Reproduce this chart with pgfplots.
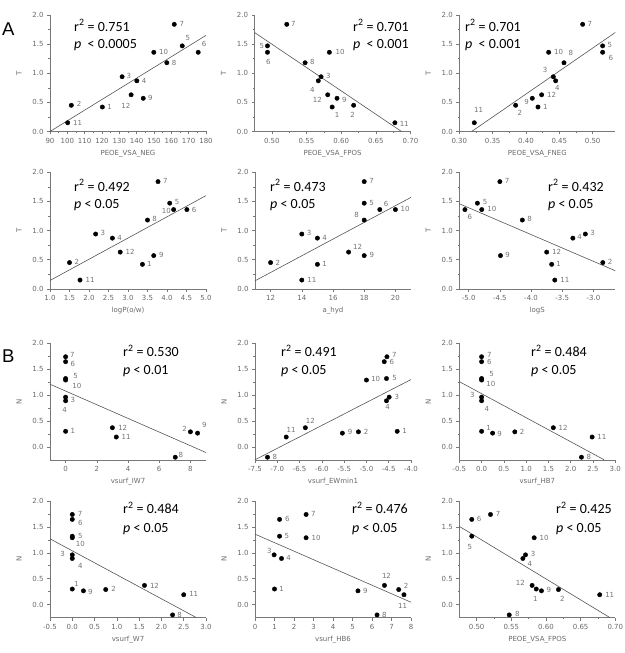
\documentclass[border=0pt]{standalone}
\usepackage{pgfplots}
\pgfplotsset{compat=1.18}
\usepackage{fontspec}
\setmainfont{Carlito}
\newfontfamily\dvs{DejaVu Sans}
\newfontfamily\lib{Liberation Sans}
\definecolor{tickgray}{RGB}{105,105,105}
\definecolor{labgray}{RGB}{115,115,115}
\definecolor{axgray}{RGB}{120,120,120}
\definecolor{linegray}{RGB}{85,85,85}
\newcommand{\smallf}{\fontsize{7}{8}\selectfont\dvs}
\newcommand{\rf}{\fontsize{14}{16}\selectfont}
\pgfplotsset{
 panel/.style={
  scale only axis, width=156pt, height=116.5pt, anchor=north west,
  axis lines=left, axis line style={-, draw=axgray, line width=0.6pt},
  tick align=outside, major tick length=3pt, minor tick length=1.6pt,
  every tick/.style={draw=axgray, line width=0.5pt},
  minor tick num=1,
  tick label style={font=\smallf, text=tickgray},
  /pgf/number format/assume math mode=true,
  label style={font=\smallf, text=tickgray},
  xlabel style={at={([yshift=-22pt]axis description cs:0.5,0)}, anchor=center},
  ylabel style={at={([xshift=-31pt]axis description cs:0,0.5)}, anchor=center},
  yticklabel style={/pgf/number format/fixed, /pgf/number format/fixed zerofill, /pgf/number format/precision=1},
  clip=false,
 },
 rowT/.style={panel, ymin=0, ymax=2, ytick={0,0.5,1,1.5,2}, ylabel={T}},
 rowN/.style={panel, ymin=-0.25, ymax=2, ytick={0,0.5,1,1.5,2}, ylabel={N}},
 dec/.style={xticklabel style={/pgf/number format/fixed, /pgf/number format/fixed zerofill, /pgf/number format/precision=#1}},
 pts/.style={only marks, mark=*, mark size=2.2pt, mark options={draw=black, fill=black},
  nodes near coords, point meta=explicit symbolic,
  visualization depends on={value \thisrow{dx}\as\ldx},
  visualization depends on={value \thisrow{dy}\as\ldy},
  every node near coord/.append style={anchor=center, xshift=\ldx pt, yshift=\ldy pt, font=\smallf, text=labgray, inner sep=0pt}},
 reg/.style={no marks, draw=linegray, line width=0.6pt},
}
\begin{document}
\begin{tikzpicture}
\useasboundingbox (0,0) rectangle (624pt,-653pt);
% ---------- Row 1 ----------
\begin{axis}[rowT, at={(50pt,-15pt)}, xmin=90, xmax=180, xtick={90,100,...,180}, xlabel={PEOE\_VSA\_NEG}]
\addplot[reg] coordinates {(90,0) (180,1.65)};
\addplot[pts] table[meta=l] {
x y l dx dy
120.2 0.42 1 7.3 0
102.3 0.45 2 7.7 1
131.6 0.94 3 6.7 0.7
140.1 0.87 4 7.3 0
166.3 1.47 5 5.7 8
175.5 1.36 6 6 8
161.7 1.84 7 7.7 0
157.4 1.18 8 7.3 0
143.8 0.57 9 7 0.7
149.9 1.36 10 9.7 0
100.2 0.15 11 10 0
136.8 0.63 12 -5.3 -11
};
\end{axis}
\begin{axis}[rowT, at={(254.5pt,-15pt)}, xmin=0.475, xmax=0.70, xtick={0.5,0.55,0.6,0.65,0.7}, dec=2, xlabel={PEOE\_VSA\_FPOS}]
\addplot[reg] coordinates {(0.475,1.70) (0.687,0)};
\addplot[pts] table[meta=l] {
x y l dx dy
0.587 0.42 1 5 -7.7
0.618 0.45 2 -1 -9.3
0.571 0.94 3 7.3 0.7
0.567 0.87 4 -6 -8.7
0.4937 1.47 5 -5.7 0
0.4937 1.36 6 1 -10
0.5215 1.84 7 6.7 0
0.548 1.18 8 7.3 0.7
0.594 0.57 9 7.3 -1.7
0.583 1.36 10 10.7 0.3
0.6775 0.15 11 9.3 -0.7
0.5806 0.63 12 -10.3 -4.7
};
\end{axis}
\begin{axis}[rowT, at={(459.3pt,-15pt)}, xmin=0.30, xmax=0.534, xtick={0.3,0.35,0.4,0.45,0.5}, dec=2, xlabel={PEOE\_VSA\_FNEG}]
\addplot[reg] coordinates {(0.3185,0) (0.534,1.70)};
\addplot[pts] table[meta=l] {
x y l dx dy
0.418 0.42 1 7.3 0
0.3845 0.45 2 4.3 -7.7
0.441 0.94 3 -8.3 7
0.4445 0.87 4 1.7 -6.7
0.515 1.47 5 7.3 1
0.515 1.36 6 8.3 -6
0.485 1.84 7 7.3 0
0.457 1.18 8 7 9.7
0.4095 0.57 9 -5.7 -3.3
0.434 1.36 10 10 0.3
0.3225 0.15 11 4.3 12.7
0.4235 0.63 12 10 0.3
};
\end{axis}
% ---------- Row 2 ----------
\begin{axis}[rowT, at={(50pt,-172.3pt)}, xmin=1, xmax=5, xtick={1,1.5,2,2.5,3,3.5,4,4.5,5}, dec=1, minor x tick num=0, xlabel={logP(o/w)}]
\addplot[reg] coordinates {(1.0,0.143) (5.0,1.60)};
\addplot[pts] table[meta=l] {
x y l dx dy
3.37 0.42 1 7 0.3
1.50 0.45 2 7.3 0.3
2.17 0.94 3 7.3 0.7
2.60 0.87 4 7.3 0.3
4.07 1.47 5 7.3 0.7
4.51 1.36 6 7.3 0
3.77 1.84 7 7.3 0.7
3.50 1.18 8 7 1.3
3.66 0.57 9 7.7 0.7
4.17 1.36 10 -7.3 -1.7
1.77 0.15 11 10 0
2.80 0.63 12 10 0.7
};
\end{axis}
\begin{axis}[rowT, at={(255pt,-172.3pt)}, xmin=11, xmax=21, xtick={12,14,16,18,20}, xlabel={a\_hyd}]
\addplot[reg] coordinates {(11,0.137) (21,1.57)};
\addplot[pts] table[meta=l] {
x y l dx dy
15 0.42 1 7.3 0
12 0.45 2 7.3 0
14 0.94 3 7.3 0.7
15 0.87 4 7.3 0.3
18 1.47 5 7.3 0.3
19 1.36 6 6.3 6
18 1.84 7 7.3 0.3
18 1.18 8 -7.7 4.7
18 0.57 9 7.7 0.3
20 1.36 10 9.7 1
14 0.15 11 10 0
17 0.63 12 9 5.3
};
\end{axis}
\begin{axis}[rowT, at={(459.3pt,-172.3pt)}, xmin=-5.15, xmax=-2.65, xtick={-5,-4.5,-4,-3.5,-3}, dec=1, xlabel={logS}]
\addplot[reg] coordinates {(-5.15,1.46) (-2.65,0.31)};
\addplot[pts] table[meta=l] {
x y l dx dy
-3.67 0.42 1 7 0.3
-2.85 0.45 2 7.3 0.3
-3.13 0.94 3 7.3 0.7
-3.33 0.87 4 6.7 1
-4.86 1.47 5 7.7 0.7
-5.06 1.36 6 5 -7.3
-4.50 1.84 7 7.3 0.7
-4.14 1.18 8 7.3 0.7
-4.49 0.57 9 7 0.7
-4.79 1.36 10 10 1
-3.62 0.15 11 10 0
-3.75 0.63 12 10 0.7
};
\end{axis}
% ---------- Row 3 ----------
\begin{axis}[rowN, at={(50pt,-343.3pt)}, xmin=-1, xmax=9, xtick={0,2,4,6,8}, xlabel={vsurf\_IW7}]
\addplot[reg] coordinates {(-1,1.21) (9,-0.11)};
\addplot[pts] table[meta=l] {
x y l dx dy
0 0.30 1 7.3 0
8.0 0.29 2 -5.7 2.7
0 0.96 3 7.3 -2.7
0 0.89 4 -1 -9.3
0 1.32 5 10 2.7
0 1.645 6 7.3 -2.7
0 1.74 7 6.7 1.7
7.03 -0.20 8 5.7 2
8.46 0.265 9 6.7 8
0 1.29 10 11.3 -6.3
3.25 0.19 11 9.7 0
3.0 0.37 12 10.3 0
};
\end{axis}
\begin{axis}[rowN, at={(255pt,-343.3pt)}, xmin=-7.5, xmax=-4, xtick={-7.5,-7,-6.5,-6,-5.5,-5,-4.5,-4}, dec=1, minor x tick num=0, xlabel={vsurf\_EWmin1}]
\addplot[reg] coordinates {(-7.5,-0.25) (-4.0,1.30)};
\addplot[pts] table[meta=l] {
x y l dx dy
-4.31 0.30 1 7.3 0
-5.18 0.29 2 7.7 0.3
-4.49 0.96 3 7.7 0
-4.55 0.89 4 1 -6
-4.55 1.32 5 8 0.3
-4.60 1.645 6 7.7 -0.7
-4.54 1.74 7 7.3 1.7
-7.22 -0.20 8 7.3 0
-5.54 0.265 9 7.7 0.7
-5.0 1.29 10 9.3 0.7
-6.80 0.19 11 5 7.3
-6.37 0.37 12 5 7.3
};
\end{axis}
\begin{axis}[rowN, at={(459.3pt,-343.3pt)}, xmin=-0.5, xmax=3, xtick={-0.5,0,0.5,1,1.5,2,2.5,3}, dec=1, minor x tick num=0, xlabel={vsurf\_HB7}]
\addplot[reg] coordinates {(-0.5,1.26) (2.75,-0.25)};
\addplot[pts] table[meta=l] {
x y l dx dy
0 0.30 1 7 3.7
0.745 0.29 2 7.3 0.3
0 0.96 3 -9.3 2.7
0 0.89 4 5.3 -7.7
0 1.32 5 10 5
0 1.645 6 7.7 0
0 1.74 7 7.7 1.7
2.24 -0.20 8 7.3 0.3
0.247 0.265 9 7 -0.7
0 1.29 10 9.3 -4.3
2.48 0.19 11 9.7 0.3
1.61 0.37 12 9.7 0
};
\end{axis}
% ---------- Row 4 ----------
\begin{axis}[rowN, at={(50pt,-501pt)}, xmin=-0.5, xmax=3, xtick={-0.5,0,0.5,1,1.5,2,2.5,3}, dec=1, minor x tick num=0, xlabel={vsurf\_W7}]
\addplot[reg] coordinates {(-0.5,1.27) (2.78,-0.25)};
\addplot[pts] table[meta=l] {
x y l dx dy
0 0.30 1 4 4.7
0.75 0.29 2 8 0.3
0 0.96 3 -9.7 1
0 0.89 4 8 -7
0 1.32 5 8 0.7
0 1.645 6 8 -4
0 1.74 7 7.7 0.7
2.25 -0.20 8 7 0.3
0.25 0.265 9 7 -0.7
0 1.29 10 8 -6.3
2.5 0.19 11 10 0.3
1.62 0.37 12 10 0
};
\end{axis}
\begin{axis}[rowN, at={(255pt,-501pt)}, xmin=0, xmax=8, xtick={0,1,...,8}, minor x tick num=0, xlabel={vsurf\_HB6}]
\addplot[reg] coordinates {(0,1.36) (8,0.045)};
\addplot[pts] table[meta=l] {
x y l dx dy
1.0 0.30 1 7 0
7.37 0.29 2 7.3 4
0.98 0.96 3 -4.7 3.7
1.36 0.89 4 7 0.3
1.26 1.32 5 7.3 0.3
1.26 1.645 6 7.7 0
2.62 1.74 7 7.3 0.3
6.26 -0.20 8 7.3 0.3
5.28 0.265 9 7.3 0
2.62 1.29 10 10 0
7.64 0.19 11 -1.3 -11.7
6.64 0.37 12 2 10
};
\end{axis}
\begin{axis}[rowN, at={(459.3pt,-501pt)}, xmin=0.475, xmax=0.70, xtick={0.5,0.55,0.6,0.65,0.7}, dec=2, xlabel={PEOE\_VSA\_FPOS}]
\addplot[reg] coordinates {(0.475,1.51) (0.692,-0.25)};
\addplot[pts] table[meta=l] {
x y l dx dy
0.586 0.30 1 -1 -10.3
0.618 0.29 2 4 -9
0.5705 0.96 3 7.7 1
0.5667 0.89 4 7 -5.7
0.493 1.32 5 -2 -11
0.493 1.645 6 7.3 0.3
0.520 1.74 7 7.7 0.7
0.547 -0.20 8 8 0.7
0.5935 0.265 9 7.3 0.7
0.583 1.29 10 10 0.3
0.6775 0.19 11 10 0
0.580 0.37 12 -11.7 3
};
\end{axis}
% ---------- annotations ----------
\node[anchor=base west, inner sep=0pt, font=\lib\fontsize{18.5}{20}\selectfont] at (2pt,-35pt) {A};
\node[anchor=base west, inner sep=0pt, font=\lib\fontsize{18.5}{20}\selectfont] at (2pt,-362pt) {B};
\begin{scope}[every node/.style={anchor=base west, inner sep=0pt, font=\rf}]
\node at (74pt,-31pt) {r\textsuperscript{2} = 0.751};
\node at (74pt,-48.3pt) {\textit{p}~~< 0.0005};
\node at (353pt,-31pt) {r\textsuperscript{2} = 0.701};
\node at (353pt,-48.3pt) {\textit{p}~~< 0.001};
\node at (465pt,-31pt) {r\textsuperscript{2} = 0.701};
\node at (465pt,-48.3pt) {\textit{p}~~< 0.001};
\node at (74pt,-191pt) {r\textsuperscript{2} = 0.492};
\node at (74pt,-208.3pt) {\textit{p} < 0.05};
\node at (270pt,-191pt) {r\textsuperscript{2} = 0.473};
\node at (270pt,-208.3pt) {\textit{p} < 0.05};
\node at (548pt,-191pt) {r\textsuperscript{2} = 0.432};
\node at (548pt,-208.3pt) {\textit{p} < 0.05};
\node at (123pt,-356.7pt) {r\textsuperscript{2} = 0.530};
\node at (123pt,-374pt) {\textit{p} < 0.01};
\node at (281pt,-356.7pt) {r\textsuperscript{2} = 0.491};
\node at (281pt,-374pt) {\textit{p} < 0.05};
\node at (531pt,-356.7pt) {r\textsuperscript{2} = 0.484};
\node at (531pt,-374pt) {\textit{p} < 0.05};
\node at (123pt,-513.7pt) {r\textsuperscript{2} = 0.484};
\node at (123pt,-532.3pt) {\textit{p} < 0.05};
\node at (352pt,-513.7pt) {r\textsuperscript{2} = 0.476};
\node at (352pt,-532.3pt) {\textit{p} < 0.05};
\node at (556pt,-513.7pt) {r\textsuperscript{2} = 0.425};
\node at (556pt,-532.3pt) {\textit{p} < 0.05};
\end{scope}
\end{tikzpicture}
\end{document}
